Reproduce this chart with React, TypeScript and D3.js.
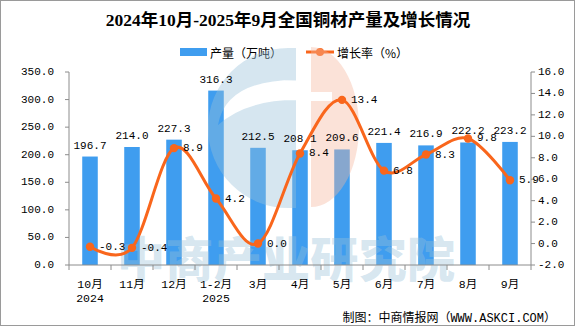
import React from "react";
import * as d3 from "d3";

const categories = ["10月", "11月", "12月", "1-2月", "3月", "4月", "5月", "6月", "7月", "8月", "9月"];
const yearLabels = ["2024", "", "", "2025", "", "", "", "", "", "", ""];
const production = [196.7, 214.0, 227.3, 316.3, 212.5, 208.1, 209.6, 221.4, 216.9, 222.2, 223.2];
const growth = [-0.3, -0.4, 8.9, 4.2, 0.0, 8.4, 13.4, 6.8, 8.3, 9.8, 5.9];
const leftTicks = [0, 50, 100, 150, 200, 250, 300, 350];
const rightTicks = [-2, 0, 2, 4, 6, 8, 10, 12, 14, 16];

const W = 575;
const H = 326;
const X0 = 69;
const X1 = 531;
const YT = 72;
const YB = 265;
const BAR = "#3F9DEF";
const LINE = "#F9661C";
const AXIS = "#8C8C8C";
const NUM_FONT = "'Liberation Mono','Noto Sans CJK SC',monospace";
const CJK_FONT = "'Noto Sans CJK SC',sans-serif";

export default function App() {
  const x = d3.scaleBand<string>().domain(categories).range([X0, X1]).paddingInner(0.63).paddingOuter(0.315);
  const yL = d3.scaleLinear().domain([0, 350]).range([YB, YT]);
  const yR = d3.scaleLinear().domain([-2, 16]).range([YB, YT]);
  const step = x.step();
  const cx = (c: string) => (x(c) as number) + x.bandwidth() / 2;
  const pts: [number, number][] = categories.map((c, i) => [cx(c), yR(growth[i])]);
  const line = d3.line().curve(d3.curveCardinal.tension(0))(pts) || "";

  const bluePath =
    "M288,48 A80,80 0 0 0 288,208 L296,208 L296,48 Z " +
    "M218,125 Q226,80 296,80 L296,100 Q246,100 218,125 Z";
  const orangePath = "M311,47 A48,80 0 0 1 311,207 Z M311,92 L332,92 L332,101 L311,101 Z";

  return (
    <svg width={W} height={H} style={{ position: "absolute", left: 0, top: 0, background: "#fff" }}>
      <rect x={0.5} y={0.5} width={W - 1} height={H - 1} fill="#fff" stroke="#9a9a9a" />
      <text x={288} y={20} textAnchor="middle" dominantBaseline="central" fontSize={17.5} fontWeight="bold"
        fontFamily={"'Liberation Serif','Noto Sans CJK SC',serif"} fill="#000">
        2024年10月-2025年9月全国铜材产量及增长情况
      </text>
      {/* legend */}
      <rect x={180} y={48} width={27} height={8} fill={BAR} />
      <text x={210} y={52} dominantBaseline="central" fontSize={12} fontFamily={CJK_FONT} fill="#000">产量（万吨）</text>
      <line x1={306} x2={334} y1={52} y2={52} stroke={LINE} strokeWidth={3} />
      <circle cx={320} cy={52} r={4} fill={LINE} />
      <text x={337} y={52} dominantBaseline="central" fontSize={12} fontFamily={CJK_FONT} fill="#000">增长率（%）</text>

      {/* bars */}
      {categories.map((c, i) => (
        <rect key={c} x={x(c)} y={yL(production[i])} width={x.bandwidth()} height={YB - yL(production[i])} fill={BAR} />
      ))}

      {/* watermark */}
      <path d={bluePath} fill="#98C0D9" fillOpacity={0.4} fillRule="evenodd" />
      <path d={orangePath} fill="#F5B69D" fillOpacity={0.4} fillRule="evenodd" />
      <text x={117} y={277} fontSize={48} fontWeight={900} fontFamily={CJK_FONT} fill="#98C0D9" fillOpacity={0.4}
        textLength={338} lengthAdjust="spacing">中商产业研究院</text>

      {/* axes */}
      <line x1={X0} x2={X0} y1={YT} y2={YB} stroke={AXIS} />
      <line x1={X1} x2={X1} y1={YT} y2={YB} stroke={AXIS} />
      <line x1={X0} x2={X1} y1={YB} y2={YB} stroke={AXIS} />
      {leftTicks.map((t) => (
        <g key={"l" + t}>
          <line x1={X0 - 4} x2={X0} y1={yL(t)} y2={yL(t)} stroke={AXIS} />
          <text x={54} y={yL(t)} textAnchor="end" dominantBaseline="central" fontSize={11} fontFamily={NUM_FONT} fill="#000">
            {t.toFixed(1)}
          </text>
        </g>
      ))}
      {rightTicks.map((t) => (
        <g key={"r" + t}>
          <line x1={X1} x2={X1 + 4} y1={yR(t)} y2={yR(t)} stroke={AXIS} />
          <text x={538} y={yR(t)} dominantBaseline="central" fontSize={11} fontFamily={NUM_FONT} fill="#000">
            {t.toFixed(1)}
          </text>
        </g>
      ))}
      {d3.range(categories.length + 1).map((i) => (
        <line key={"xt" + i} x1={X0 + i * step} x2={X0 + i * step} y1={YB} y2={YB + 5} stroke={AXIS} />
      ))}
      {categories.map((c, i) => (
        <g key={"xl" + c}>
          <text x={cx(c)} y={284} textAnchor="middle" dominantBaseline="central" fontSize={11.5} fontFamily={NUM_FONT} fill="#000">{c}</text>
          {yearLabels[i] && (
            <text x={cx(c)} y={298} textAnchor="middle" dominantBaseline="central" fontSize={11.5} fontFamily={NUM_FONT} fill="#000">{yearLabels[i]}</text>
          )}
        </g>
      ))}

      {/* bar labels */}
      {categories.map((c, i) => (
        <text key={"bl" + c} x={cx(c)} y={yL(production[i]) - 8} textAnchor="middle" fontSize={11} fontFamily={NUM_FONT} fill="#000">
          {production[i].toFixed(1)}
        </text>
      ))}

      {/* line */}
      <path d={line} fill="none" stroke={LINE} strokeWidth={3} />
      {pts.map((p, i) => (
        <circle key={"pt" + i} cx={p[0]} cy={p[1]} r={4.2} fill={LINE} />
      ))}
      {pts.map((p, i) => (
        <text key={"gl" + i} x={p[0] + 9} y={p[1]} dominantBaseline="central" fontSize={11} fontFamily={NUM_FONT} fill="#000">
          {growth[i].toFixed(1)}
        </text>
      ))}

      <text x={556} y={319} textAnchor="end" dominantBaseline="central" fontSize={12} fontFamily={NUM_FONT} fill="#000">
        制图：中商情报网（WWW.ASKCI.COM）
      </text>
    </svg>
  );
}
